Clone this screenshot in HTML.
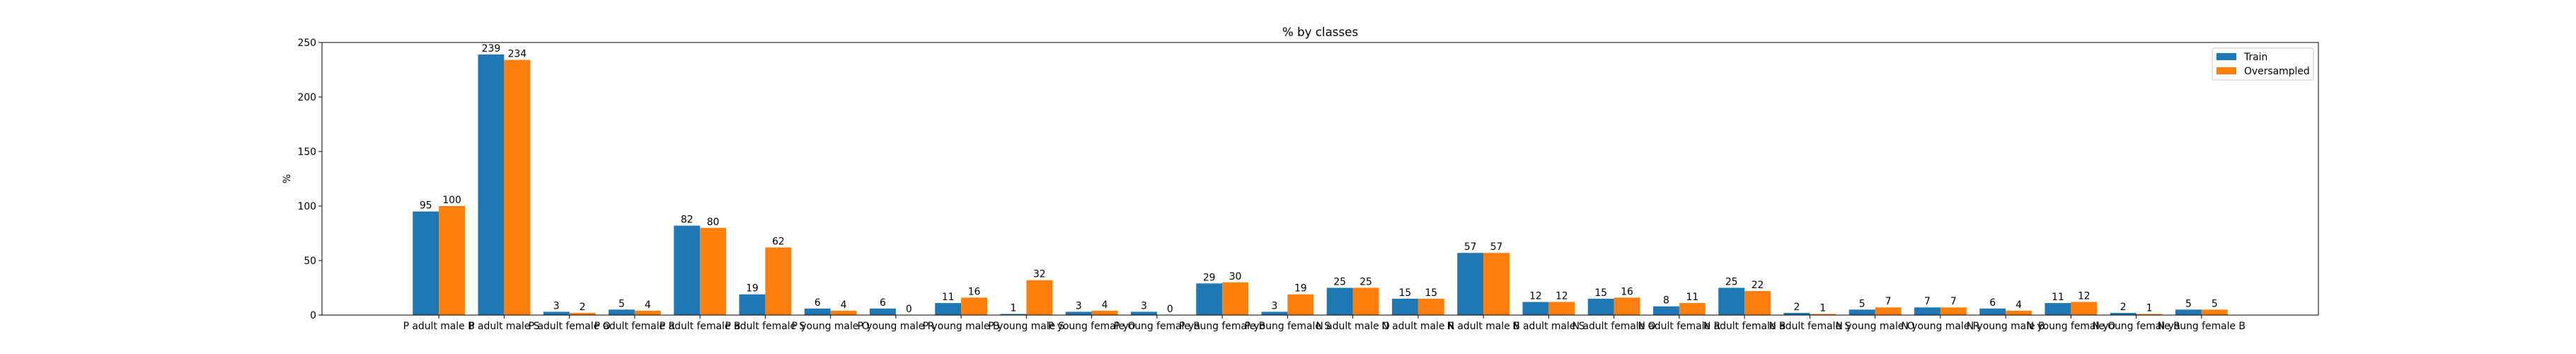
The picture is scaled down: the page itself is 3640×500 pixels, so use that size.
<!DOCTYPE html>
<html><head><meta charset="utf-8"><style>
html,body{margin:0;padding:0;background:#fff;}
svg{display:block;font-family:"DejaVu Sans","Liberation Sans",sans-serif;}
</style></head><body>
<svg id="chart" width="3640" height="500" viewBox="0 0 3640 500" xmlns="http://www.w3.org/2000/svg">
<rect x="0" y="0" width="3640" height="500" fill="#fff"/>
<g id="bars"></g>
<g id="labels"></g>
<g id="xticks"></g>
<g id="yticks"></g>
<rect x="455" y="60" width="2821" height="385" fill="none" stroke="#000" stroke-width="1"/>
<text x="1865.5" y="51" font-size="16.7" text-anchor="middle">% by classes</text>
<text transform="translate(410,252.5) rotate(-90)" font-size="13.9" text-anchor="middle">%</text>
<g>
<rect x="3126" y="68" width="143" height="45" rx="3" fill="#fff" fill-opacity="0.8" stroke="#ccc" stroke-width="1"/>
<rect x="3132" y="75" width="28" height="10" fill="#1f77b4"/>
<text x="3171" y="85" font-size="13.9">Train</text>
<rect x="3132" y="95" width="28" height="10" fill="#ff7f0e"/>
<text x="3171" y="105" font-size="13.9">Oversampled</text>
</g>
</svg>
<script>
const categories = ["P adult male B","P adult male S","P adult female O","P adult female R","P adult female B","P adult female S","P young male O","P young male R","P young male B","P young male S","P young female O","P young female R","P young female B","P young female S","N adult male O","N adult male R","N adult male B","N adult male S","N adult female O","N adult female R","N adult female B","N adult female S","N young male O","N young male R","N young male B","N young female O","N young female R","N young female B"];
const trainValues = [95,239,3,5,82,19,6,6,11,1,3,3,29,3,25,15,57,12,15,8,25,2,5,7,6,11,2,5];
const oversampledValues = [100,234,2,4,80,62,4,0,16,32,4,0,30,19,25,15,57,12,16,11,22,1,7,7,4,12,1,5];
const yTicks = [0,50,100,150,200,250];

const NS="http://www.w3.org/2000/svg";
const L=455,R=3276,T=60,B=445;
const xMin=-1.79, xMax=categories.length-1+1.79;
const yMax=250;
function xs(v){return L+(v-xMin)/(xMax-xMin)*(R-L);}
function ys(v){return B-v/yMax*(B-T);}
function mk(tag,attrs,parent){const e=document.createElementNS(NS,tag);for(const k in attrs)e.setAttribute(k,attrs[k]);parent.appendChild(e);return e;}
const gb=document.getElementById('bars'),gl=document.getElementById('labels'),gx=document.getElementById('xticks'),gy=document.getElementById('yticks');
const w=0.4;
categories.forEach((c,i)=>{
  [[trainValues[i],-w,'#1f77b4','train'],[oversampledValues[i],0,'#ff7f0e','oversampled']].forEach(([v,off,col,s])=>{
    const x0=xs(i+off),x1=xs(i+off+w);
    const r=mk('rect',{x:x0,y:ys(v),width:x1-x0,height:ys(0)-ys(v),fill:col},gb);
    
    
    const t=mk('text',{x:(x0+x1)/2,y:ys(v)-4,'font-size':'13.9','text-anchor':'middle'},gl);
    t.textContent=v;
    
    
  });
  const tk=mk('line',{x1:xs(i),x2:xs(i),y1:B,y2:B+4.9,stroke:'#000','stroke-width':1},gx);
  
  
  const tl=mk('text',{x:xs(i),y:B+20,'font-size':'13.9','text-anchor':'middle'},gx);
  tl.textContent=c;
  
  
});
yTicks.forEach(v=>{
  const tk=mk('line',{x1:L-4.9,x2:L,y1:ys(v),y2:ys(v),stroke:'#000','stroke-width':1},gy);
  
  
  const tl=mk('text',{x:L-8,y:ys(v)+5,'font-size':'13.9','text-anchor':'end'},gy);
  tl.textContent=v;
  
  
});
</script>
</body></html>
